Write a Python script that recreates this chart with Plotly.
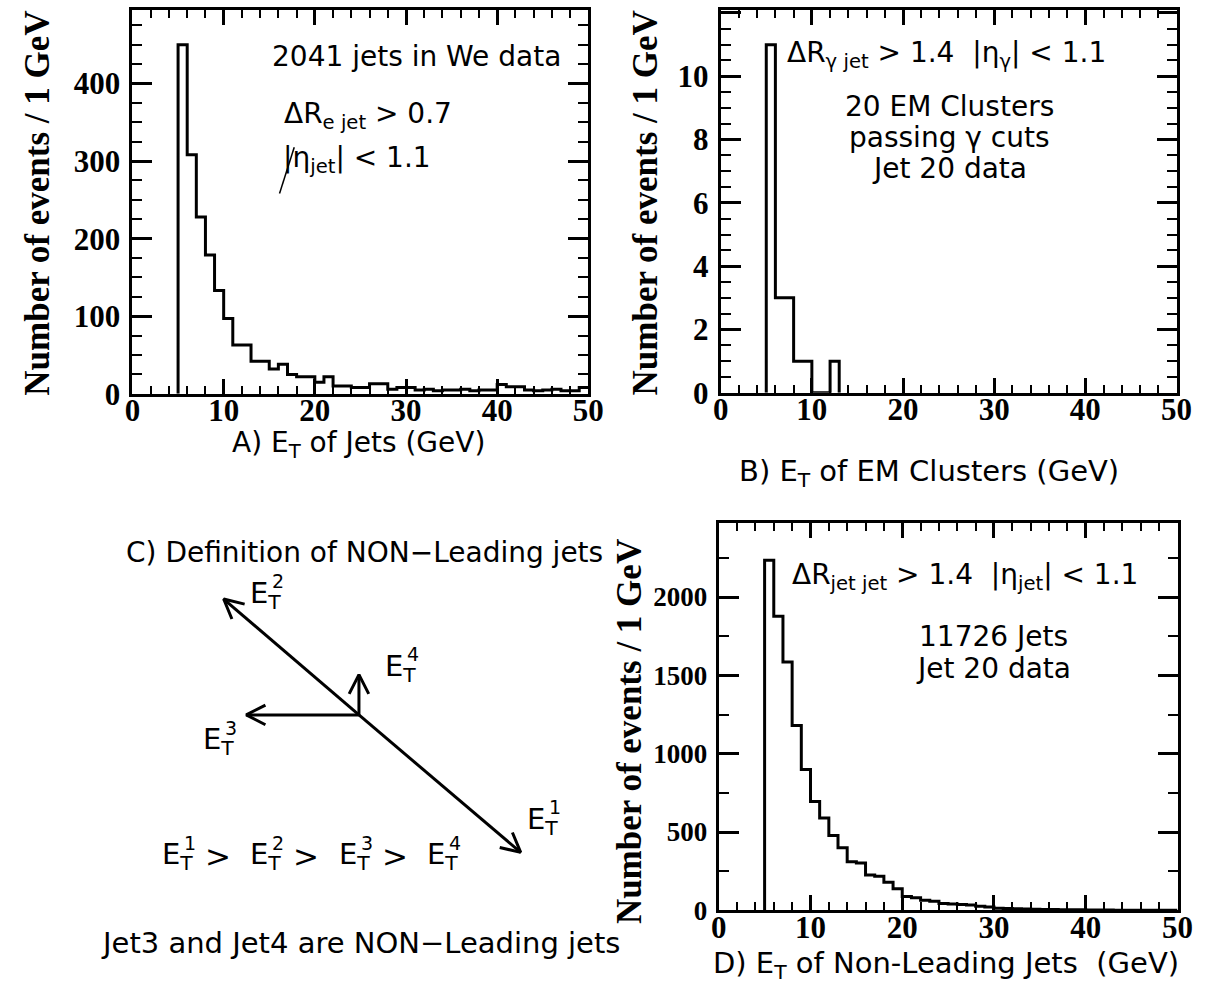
import numpy as np
import plotly.graph_objects as go

W, H = 1219, 1001

# ---------------- data ----------------
# Panel A: E_T of jets, 1 GeV bins starting at 5 GeV
a_bin_lo = 5
a_counts = [450, 308, 228, 179, 133, 97, 63, 63, 42, 42, 32, 38, 25, 22, 22,
            15, 22, 10, 10, 8, 8, 13, 13, 6, 8, 8, 5, 6, 4, 5, 5, 6, 4, 5, 5,
            12, 9, 9, 5, 4, 5, 6, 4, 4, 8]
# Panel B: E_T of EM clusters, 1 GeV bins starting at 5 GeV
b_bin_lo = 5
b_counts = [11, 3, 3, 1, 1, 0, 0, 1]
# Panel D: E_T of non-leading jets, 1 GeV bins starting at 5 GeV
d_bin_lo = 5
d_counts = [2235, 1878, 1585, 1180, 899, 694, 589, 478, 400, 310, 302, 225, 218,
            180, 138, 88, 80, 64, 58, 44, 40, 38, 34, 26, 22, 14, 12, 10, 8, 7,
            6, 5, 4, 4, 3, 2, 2, 2, 1, 1, 1, 1, 1, 1, 1]

x_dtick = 10
a_ydtick = 100
b_ydtick = 2
d_ydtick = 500

# Panel C diagram (pixel-like coordinates of a hidden axis)
vec_origin = (358, 728)
vec_names = ["1", "2", "3", "4"]
vec_tip_x = [523, 220, 243, 358]
vec_tip_y = [868, 610, 728, 687]
lab_x = [538, 255, 207, 393]
lab_y = [836, 606, 755, 680]

SERIF = "Liberation Serif"
SANS = "DejaVu Sans"

C_W, C_TOP = 640, 520  # region of the diagram (pixels)


def px(x):
    return x / W


def py(y):
    return 1 - y / H


def step_xy(lo, counts, close=False):
    edges = [lo + i for i in range(len(counts) + 1)]
    xs = [lo] + edges[:-1] + [edges[-1]]
    ys = [0] + list(counts) + [counts[-1]]
    if close:
        xs.append(edges[-1])
        ys.append(0)
    return xs, ys


fig = go.Figure()

line = dict(color="black", width=3, shape="hv")
xa, ya = step_xy(a_bin_lo, a_counts)
fig.add_trace(go.Scatter(x=xa, y=ya, mode="lines", line=line, xaxis="x", yaxis="y",
                         showlegend=False, hoverinfo="skip"))
xb, yb = step_xy(b_bin_lo, b_counts, close=True)
fig.add_trace(go.Scatter(x=xb, y=yb, mode="lines", line=line, xaxis="x2", yaxis="y2",
                         showlegend=False, hoverinfo="skip"))
xd, yd = step_xy(d_bin_lo, d_counts)
fig.add_trace(go.Scatter(x=xd, y=yd, mode="lines", line=line, xaxis="x3", yaxis="y3",
                         showlegend=False, hoverinfo="skip"))

# Diagram vectors with open arrowheads
ox, oy = vec_origin
for tx, ty in zip(vec_tip_x, vec_tip_y):
    u = np.array([ox - tx, oy - ty], dtype=float)
    u /= np.linalg.norm(u)
    L = 22
    heads = []
    for ang in (np.radians(27), -np.radians(27)):
        r = np.array([[np.cos(ang), -np.sin(ang)], [np.sin(ang), np.cos(ang)]]) @ u
        heads.append((float(tx + L * r[0]), float(ty + L * r[1])))
    xs = [ox, tx, None, heads[0][0], tx, heads[1][0]]
    ys = [oy, ty, None, heads[0][1], ty, heads[1][1]]
    fig.add_trace(go.Scatter(x=xs, y=ys, mode="lines", line=dict(color="black", width=3),
                             xaxis="x4", yaxis="y4", showlegend=False, hoverinfo="skip"))


def xax(domain, anchor):
    return dict(domain=domain, range=[0, 50], tickmode="linear", tick0=0, dtick=x_dtick,
                ticks="inside", ticklen=15, tickwidth=2.5, tickcolor="black",
                mirror="allticks", showline=True, linewidth=3, linecolor="black",
                showgrid=False, zeroline=False,
                tickfont=dict(family=SERIF, size=31, color="black"), fixedrange=True,
                tickprefix="<b>", ticksuffix="</b>", anchor=anchor, ticklabelstandoff=-13,
                minor=dict(dtick=2, ticks="inside", ticklen=8, tickwidth=2,
                           tickcolor="black", showgrid=False))


def yax(domain, rng, dt, mdt, anchor, fsize=31):
    return dict(domain=domain, range=rng, tickmode="linear", tick0=0, dtick=dt,
                ticks="inside", ticklen=20, tickwidth=2.5, tickcolor="black",
                mirror="allticks", showline=True, linewidth=3, linecolor="black",
                showgrid=False, zeroline=False,
                tickfont=dict(family=SERIF, size=fsize, color="black"), anchor=anchor,
                fixedrange=True, tickprefix="<b>", ticksuffix="</b>", ticklabelstandoff=3,
                minor=dict(dtick=mdt, ticks="inside", ticklen=10, tickwidth=2,
                           tickcolor="black", showgrid=False))


fig.update_layout(
    width=W, height=H, margin=dict(l=0, r=0, t=0, b=0),
    paper_bgcolor="white", plot_bgcolor="rgba(0,0,0,0)",
    xaxis=xax([px(127), px(592)], "y"),
    yaxis=yax([py(401), py(10)], [0, 495], a_ydtick, 25, "x"),
    xaxis2=xax([px(727), px(1192)], "y2"),
    yaxis2=yax([py(400), py(10)], [0, 12.1], b_ydtick, 0.5, "x2"),
    xaxis3=xax([px(725), px(1193)], "y3"),
    yaxis3=yax([py(927), py(533)], [0, 2470], d_ydtick, 250, "x3", fsize=27),
    xaxis4=dict(domain=[0, px(C_W)], range=[0, C_W], visible=False, anchor="y4",
                fixedrange=True),
    yaxis4=dict(domain=[0, py(C_TOP)], range=[H, C_TOP], visible=False, anchor="x4",
                fixedrange=True),
)

ann = []


def text(x, y, s, size=28, family=SANS, angle=0, xanchor="center"):
    ann.append(dict(x=px(x), y=py(y), xref="paper", yref="paper", text=s,
                    showarrow=False, textangle=angle, xanchor=xanchor, yanchor="middle",
                    font=dict(family=family, size=size, color="black")))


ytitle = "<b>Number of events / 1 GeV</b>"
text(30, 207, ytitle, size=35, family=SERIF, angle=-90)
text(650, 207, ytitle, size=35, family=SERIF, angle=-90)
text(634, 745, ytitle, size=35, family=SERIF, angle=-90)

text(358, 453, "A) E<sub>T</sub> of Jets (GeV)", size=28)
text(940, 482, "B) E<sub>T</sub> of EM Clusters (GeV)", size=29)
text(957, 983, "D) E<sub>T</sub> of Non-Leading Jets  (GeV)", size=29)

# Panel A texts
text(417, 58, "2041 jets in We data", size=28)
text(280, 118, "ΔR<sub>e jet</sub> > 0.7", size=28, xanchor="left")
text(278, 162, "|η<sub>jet</sub>| < 1.1", size=28, xanchor="left")
# Panel B texts
text(957, 55, "ΔR<sub>γ jet</sub> > 1.4  |η<sub>γ</sub>| < 1.1", size=28)
text(960, 108, "20 EM Clusters", size=28)
text(960, 140, "passing γ cuts", size=28)
text(960, 172, "Jet 20 data", size=28)
# Panel D texts
text(976, 587, "ΔR<sub>jet jet</sub> > 1.4  |η<sub>jet</sub>| < 1.1", size=28)
text(1005, 648, "11726 Jets", size=28)
text(1005, 681, "Jet 20 data", size=28)

# Panel C texts
text(364, 563, "C) Definition of NON−Leading jets", size=28)
text(360, 960, "Jet3 and Jet4 are NON−Leading jets", size=29)


def e_label(x, y, sup, size=29):
    ann.append(dict(x=x, y=y, xref="x4", yref="y4", text="E<sub>T</sub>", showarrow=False,
                    xanchor="left", yanchor="middle", xshift=-10,
                    font=dict(family=SANS, size=size, color="black")))
    ann.append(dict(x=x + 12, y=y - 14, xref="x4", yref="y4", text=sup, showarrow=False,
                    xanchor="left", yanchor="middle",
                    font=dict(family=SANS, size=19, color="black")))


for n, lx, ly in zip(vec_names, lab_x, lab_y):
    e_label(lx, ly, n)

# inequality line
for i, n in enumerate(vec_names):
    e_label(165 + 90.3 * i, 872, n)
for i in range(3):
    ann.append(dict(x=214 + 90.3 * i, y=872, xref="x4", yref="y4", text=">", showarrow=False,
                    xanchor="center", yanchor="middle",
                    font=dict(family=SANS, size=31, color="black")))

fig.update_layout(annotations=ann)

# stray pen mark in panel A
fig.add_shape(type="line", xref="paper", yref="paper", x0=px(277), y0=py(197),
              x1=px(292), y1=py(150), line=dict(color="black", width=1.5))

fig.write_html("out.html")
